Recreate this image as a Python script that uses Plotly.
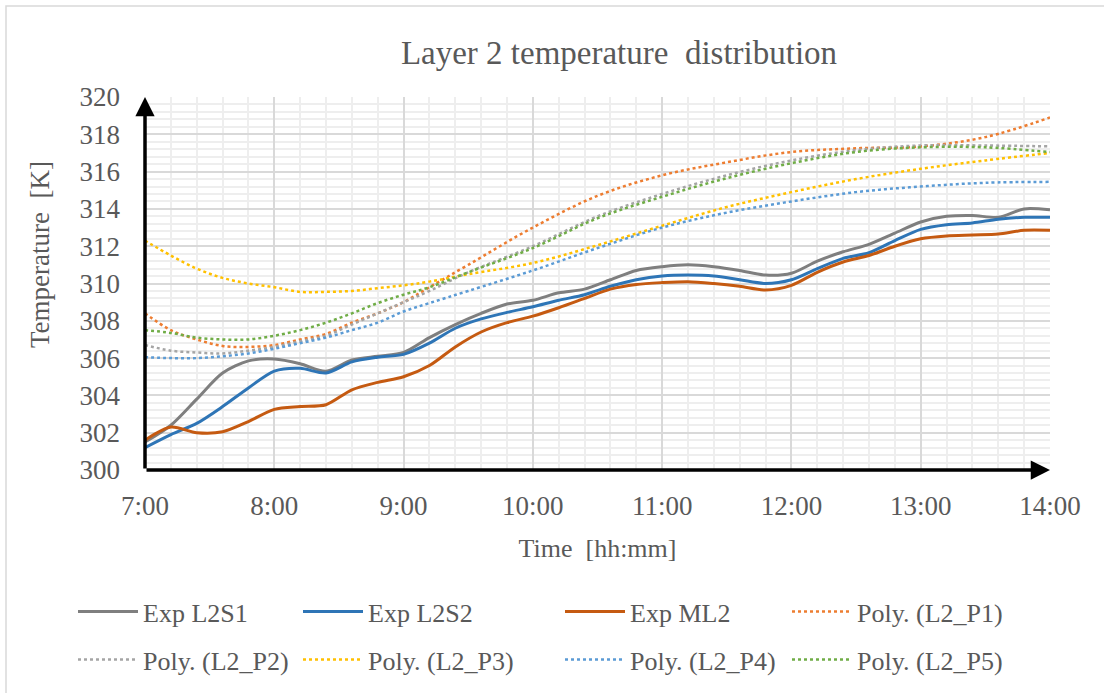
import plotly.graph_objects as go

# ---------------- data ----------------
t_exp = [7.0, 7.2, 7.4, 7.6, 7.8, 8.0, 8.2, 8.4, 8.6, 8.8, 9.0, 9.2, 9.4, 9.6, 9.8,
         10.0, 10.2, 10.4, 10.6, 10.8, 11.0, 11.2, 11.4, 11.6, 11.8, 12.0, 12.2, 12.4,
         12.6, 12.8, 13.0, 13.2, 13.4, 13.6, 13.8, 14.0]
exp_l2s1 = [301.5, 302.4, 303.8, 305.2, 305.85, 305.95, 305.7, 305.3, 305.9, 306.1, 306.3,
            307.1, 307.8, 308.4, 308.9, 309.1, 309.5, 309.7, 310.2, 310.7, 310.9, 311.0,
            310.9, 310.7, 310.45, 310.55, 311.2, 311.7, 312.1, 312.7, 313.3, 313.6, 313.65,
            313.55, 314.0, 313.95]
exp_l2s2 = [301.2, 301.9, 302.5, 303.4, 304.4, 305.3, 305.45, 305.2, 305.8, 306.05, 306.2,
            306.8, 307.6, 308.1, 308.45, 308.75, 309.1, 309.4, 309.85, 310.2, 310.4, 310.45,
            310.4, 310.2, 310.0, 310.2, 310.8, 311.35, 311.65, 312.3, 312.9, 313.15, 313.25,
            313.45, 313.55, 313.55]
exp_ml2 = [301.6, 302.3, 302.0, 302.05, 302.6, 303.25, 303.4, 303.5, 304.3, 304.7, 305.0,
           305.6, 306.6, 307.4, 307.9, 308.25, 308.7, 309.2, 309.7, 309.95, 310.05, 310.1,
           310.0, 309.85, 309.65, 309.9, 310.6, 311.15, 311.5, 312.0, 312.4, 312.55, 312.6,
           312.65, 312.85, 312.85]

t_poly = [7.0, 7.2, 7.4, 7.6, 7.8, 8.0, 8.2, 8.4, 8.6, 8.8, 9.0, 9.2, 9.5,
          10.0, 10.5, 11.0, 11.5, 12.0, 12.5, 13.0, 13.5, 14.0]
poly_p1 = [308.4, 307.5, 307.0, 306.65, 306.6, 306.7, 307.0, 307.3, 307.9, 308.4, 309.0,
           309.8, 311.0, 313.0, 314.7, 315.8, 316.5, 317.05, 317.25, 317.35, 317.85, 318.9]
poly_p2 = [306.7, 306.4, 306.3, 306.25, 306.4, 306.6, 306.9, 307.2, 307.8, 308.4, 309.0,
           309.6, 310.6, 312.0, 313.6, 314.8, 315.8, 316.6, 317.15, 317.4, 317.4, 317.35]
poly_p3 = [312.3, 311.5, 310.8, 310.3, 310.0, 309.8, 309.55, 309.55, 309.6, 309.75, 309.9,
           310.1, 310.5, 311.1, 312.05, 313.1, 314.1, 314.9, 315.6, 316.15, 316.6, 317.0]
poly_p4 = [306.05, 306.0, 306.0, 306.1, 306.25, 306.5, 306.8, 307.1, 307.5, 307.9, 308.5,
           308.95, 309.6, 310.7, 311.9, 313.0, 313.8, 314.4, 314.9, 315.2, 315.4, 315.45]
poly_p5 = [307.5, 307.35, 307.1, 307.0, 307.0, 307.2, 307.5, 307.9, 308.4, 308.95, 309.4,
           309.8, 310.6, 311.9, 313.5, 314.65, 315.65, 316.45, 317.05, 317.3, 317.3, 317.05]

x_tickvals = [7, 8, 9, 10, 11, 12, 13, 14]
x_ticktext = ["7:00", "8:00", "9:00", "10:00", "11:00", "12:00", "13:00", "14:00"]
y_tickvals = [300, 302, 304, 306, 308, 310, 312, 314, 316, 318, 320]

# ---------------- figure ----------------
FONT = "Liberation Serif"
TXT = "#595959"
FS = 26

fig = go.Figure()

# legend column widths (text area) so the columns line up like the reference
col_w = [150, 187, 152, 165]

solid = [("Exp L2S1", exp_l2s1, "#7F7F7F"),
         ("Exp L2S2", exp_l2s2, "#2E75B6"),
         ("Exp ML2", exp_ml2, "#C55A11")]
dotted = [("Poly. (L2_P1)", poly_p1, "#ED7D31", "legend", 3),
          ("Poly. (L2_P2)", poly_p2, "#A5A5A5", "legend2", 0),
          ("Poly. (L2_P3)", poly_p3, "#FFC000", "legend2", 1),
          ("Poly. (L2_P4)", poly_p4, "#5B9BD5", "legend2", 2),
          ("Poly. (L2_P5)", poly_p5, "#70AD47", "legend2", 3)]

for k, (name, ys, col, lg, c) in enumerate(dotted):
    fig.add_trace(go.Scatter(x=t_poly, y=ys, name=name, mode="lines",
                             line=dict(color=col, width=2.5, dash="dot", shape="spline"),
                             legend=lg, legendrank=100 + k, legendwidth=col_w[c]))
for i, (name, ys, col) in enumerate(solid):
    fig.add_trace(go.Scatter(x=t_exp, y=ys, name=name, mode="lines",
                             line=dict(color=col, width=3, shape="spline", smoothing=0.8),
                             legend="legend", legendrank=i, legendwidth=col_w[i]))

L, R, T, B = 145, 54, 97, 223
W, H = 1104, 693
PW, PH = W - L - R, H - T - B

def px_x(px):
    return (px - L) / PW

def px_y(py):
    return (H - B - py) / PH

legend_common = dict(orientation="h", xanchor="left", yanchor="top",
                     entrywidthmode="pixels", itemwidth=60,
                     font=dict(family=FONT, size=FS, color=TXT), bgcolor="rgba(0,0,0,0)",
                     traceorder="normal")

fig.update_layout(
    width=W, height=H,
    margin=dict(l=L, r=R, t=T, b=B, autoexpand=False),
    paper_bgcolor="white", plot_bgcolor="white",
    font=dict(family=FONT, color=TXT, size=FS),
    title=dict(text="Layer 2 temperature  distribution", x=619 / W, xanchor="center",
               xref="container", y=1 - 52 / H, yanchor="middle", yref="container",
               font=dict(family=FONT, size=33, color=TXT)),
    xaxis=dict(range=[7, 14], tickvals=x_tickvals, ticktext=x_ticktext,
               showgrid=True, gridcolor="#D9D9D9", gridwidth=1.5,
               minor=dict(dtick=0.2, tick0=7, showgrid=True, gridcolor="#EEEEEE", gridwidth=1.5),
               zeroline=False, showline=False, ticks="", ticklabelstandoff=17,
               tickfont=dict(family=FONT, size=27, color=TXT),
               title=dict(text="Time  [hh:mm]", font=dict(family=FONT, size=FS, color=TXT),
                          standoff=18)),
    yaxis=dict(range=[300, 320], tickvals=y_tickvals,
               showgrid=True, gridcolor="#D9D9D9", gridwidth=1.5,
               minor=dict(dtick=0.4, tick0=300, showgrid=True, gridcolor="#EEEEEE", gridwidth=1.5),
               zeroline=False, showline=False, ticks="", ticklabelstandoff=24,
               tickfont=dict(family=FONT, size=27, color=TXT)),
    showlegend=True,
    legend=dict(x=px_x(73), y=px_y(588), **legend_common),
    legend2=dict(x=px_x(73), y=px_y(636), **legend_common),
)

# y-axis title as rotated annotation
fig.add_annotation(text="Temperature  [K]", xref="paper", yref="paper",
                   x=px_x(40), y=px_y(255), textangle=-90, showarrow=False,
                   font=dict(family=FONT, size=27, color=TXT),
                   xanchor="center", yanchor="middle")

# axis lines with arrowheads
fig.add_annotation(x=7, y=320, ax=7, ay=300, xref="x", yref="y", axref="x", ayref="y",
                   text="", showarrow=True, arrowhead=2, arrowsize=1.1, arrowwidth=3.5,
                   arrowcolor="black")
fig.add_annotation(x=14, y=300, ax=7, ay=300, xref="x", yref="y", axref="x", ayref="y",
                   text="", showarrow=True, arrowhead=2, arrowsize=1.1, arrowwidth=3.5,
                   arrowcolor="black")

# outer chart border
fig.add_shape(type="rect", xref="paper", yref="paper",
              x0=px_x(6), x1=px_x(1120), y0=px_y(710), y1=px_y(6),
              line=dict(color="#D9D9D9", width=1.5), fillcolor="rgba(0,0,0,0)", layer="below")

fig.write_html("out.html")
